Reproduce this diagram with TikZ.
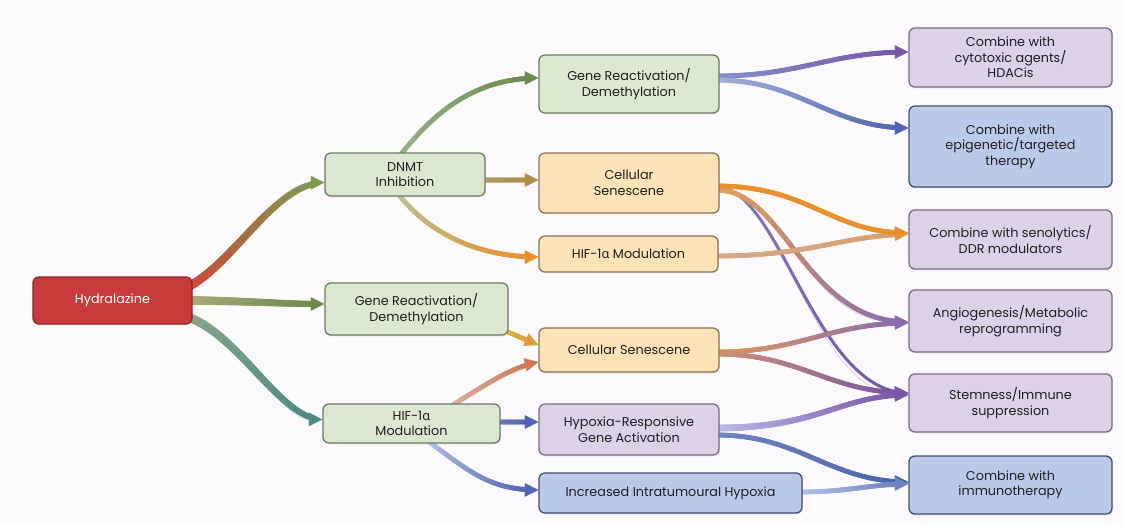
\documentclass[tikz,border=0pt]{standalone}
\usepackage{fontspec}
\setmainfont{Poppins}
\newfontfamily\grk{Noto Sans}
\usetikzlibrary{arrows.meta,decorations.markings,calc,shadows}
\pgfdeclarelayer{paper}
\pgfdeclarelayer{edges}
\pgfsetlayers{paper,edges,main}
\definecolor{bg}{HTML}{FCFAFC}
\definecolor{txt}{HTML}{1F1F1F}
\definecolor{gfill}{HTML}{DCE7CF}\definecolor{gdraw}{HTML}{6E7B62}
\definecolor{ofill}{HTML}{FDE3B8}\definecolor{odraw}{HTML}{8C7456}
\definecolor{pfill}{HTML}{DDD1E7}\definecolor{pdraw}{HTML}{7B6B85}
\definecolor{bfill}{HTML}{B9CAE8}\definecolor{bdraw}{HTML}{3D4E72}
\definecolor{rfill}{HTML}{C93B3B}\definecolor{rdraw}{HTML}{8E2323}
% flow colours
\definecolor{cRed}{HTML}{CC4A3A}
\definecolor{cOlive}{HTML}{7E9A50}
\definecolor{cKhaki}{HTML}{ABAA7A}
\definecolor{cGreen}{HTML}{6C8C4E}
\definecolor{cSage}{HTML}{8AA88A}
\definecolor{cTeal}{HTML}{4E8A84}
\definecolor{cLgreen}{HTML}{9CB48A}
\definecolor{cBrownA}{HTML}{A89C68}
\definecolor{cBrownB}{HTML}{B08E48}
\definecolor{cPale}{HTML}{B8C294}
\definecolor{cOrange}{HTML}{E8902E}
\definecolor{cYellow}{HTML}{D8BA4A}
\definecolor{cOrB}{HTML}{E09A3A}
\definecolor{cRose}{HTML}{D9B4A6}
\definecolor{cSalmon}{HTML}{D07A52}
\definecolor{cBlue}{HTML}{5266B0}
\definecolor{cBlueA}{HTML}{6C7CBA}
\definecolor{cLblue}{HTML}{B3C2E2}
\definecolor{cBlueP}{HTML}{8392CA}
\definecolor{cPurple}{HTML}{7A56A8}
\definecolor{cLbp}{HTML}{A2B0D8}
\definecolor{cOrL}{HTML}{E2A252}
\definecolor{cMauve}{HTML}{8C6CB0}
\definecolor{cPurA}{HTML}{8878B8}
\definecolor{cPurB}{HTML}{7258A2}
\definecolor{cTan}{HTML}{D8A888}
\definecolor{cTanB}{HTML}{D8A070}
\definecolor{cOrS}{HTML}{E0985A}
\definecolor{cSalB}{HTML}{D09272}
\definecolor{cLav}{HTML}{BCBCEA}
\definecolor{cBlueI}{HTML}{4A66A8}
\definecolor{cLbI}{HTML}{B2C2E8}
\definecolor{cBlueJ}{HTML}{7086C2}
\newcommand{\flowmark}[4]{%
  \pgfmathsetmacro\flfr{min(1,\pgfkeysvalueof{/pgf/decoration/mark info/distance from start}/(\pgfdecoratedpathlength-11))}%
  \pgfmathsetmacro\flpc{100*(1-\flfr)}%
  \pgfmathsetmacro\flrr{(#3+(#4-#3)*\flfr)/2}%
  \fill[#1!\flpc!#2] (0,0) circle (\flrr pt);}
\tikzset{
  box/.style={draw, rounded corners=6pt, line width=1.3pt, align=center,
    font=\fontsize{12.8}{15.5}\selectfont, text=txt, inner sep=2pt,
    drop shadow={opacity=0.12, shadow xshift=0.8pt, shadow yshift=-1.5pt}},
  gbox/.style={box, fill=gfill, draw=gdraw},
  obox/.style={box, fill=ofill, draw=odraw},
  pbox/.style={box, fill=pfill, draw=pdraw},
  bbox/.style={box, fill=bfill, draw=bdraw},
  rbox/.style={box, fill=rfill, draw=rdraw, text=white},
  flow/.style n args={4}{draw=#2, line width=0.05pt,
    -{Triangle[length=13.5pt,width=13.5pt]},
    postaction={decorate},
    decoration={markings,
      mark=between positions 0 and -11pt step 0.9pt with {\flowmark{#1}{#2}{#3}{#4}}}}
}
\begin{document}
\begin{tikzpicture}[x=1pt,y=-1pt]
\begin{pgfonlayer}{paper}
\fill[bg] (0,0) rectangle (1123,525);
\end{pgfonlayer}
\useasboundingbox (0,0) rectangle (1123,525);
% nodes
\node[rbox, minimum width=159pt, minimum height=47pt] (hyd) at (112.5,300.5) {Hydralazine};
\node[gbox, minimum width=160pt, minimum height=43pt] (dnmt) at (405,174.5) {DNMT\\Inhibition};
\node[gbox, minimum width=183pt, minimum height=52pt] (gr2) at (416.5,309) {Gene Reactivation/\\Demethylation};
\node[gbox, minimum width=177pt, minimum height=39pt] (hifl) at (411.5,423.5) {HIF-1{\grk α}\\Modulation};
\node[gbox, minimum width=180pt, minimum height=58pt] (grt) at (629,84) {Gene Reactivation/\\Demethylation};
\node[obox, minimum width=180pt, minimum height=60pt] (cst) at (629,183) {Cellular\\Senescene};
\node[obox, minimum width=179pt, minimum height=36pt] (hifm) at (628.5,254) {HIF-1{\grk α} Modulation};
\node[obox, minimum width=180pt, minimum height=44pt] (csm) at (629,350) {Cellular Senescene};
\node[pbox, minimum width=180pt, minimum height=51pt] (hyp) at (629,429.5) {Hypoxia-Responsive\\Gene Activation};
\node[bbox, minimum width=263pt, minimum height=40pt] (inc) at (670.5,493) {Increased Intratumoural Hypoxia};
\node[pbox, minimum width=203pt, minimum height=59pt] (cyto) at (1010.5,57.5) {Combine with\\cytotoxic agents/\\HDACis};
\node[bbox, minimum width=203pt, minimum height=81pt] (epi) at (1010.5,146.5) {Combine with\\epigenetic/targeted\\therapy};
\node[pbox, minimum width=203pt, minimum height=59pt] (sen) at (1010.5,239.5) {Combine with senolytics/\\DDR modulators};
\node[pbox, minimum width=203pt, minimum height=62pt] (ang) at (1010.5,321) {Angiogenesis/Metabolic\\reprogramming};
\node[pbox, minimum width=203pt, minimum height=58pt] (stem) at (1010.5,403) {Stemness/Immune\\suppression};
\node[bbox, minimum width=203pt, minimum height=58pt] (imm) at (1010.5,485) {Combine with\\immunotherapy};
\begin{pgfonlayer}{edges}
% connectors: left
\draw[flow={cRed}{cOlive}{9}{6}] ($(hyd.east)+(-4,-14)$) .. controls (235,262) and (275,183) .. ($(dnmt.west)+(0,8)$);
\draw[flow={cKhaki}{cGreen}{9}{6}] ($(hyd.east)+(-4,0)$) .. controls (250,301) and (280,304) .. ($(gr2.west)+(0,-5)$);
\draw[flow={cSage}{cTeal}{9}{6}] ($(hyd.east)+(-6,16)$) .. controls (240,335) and (280,419) .. ($(hifl.west)+(0,-4)$);
\draw[flow={cLgreen}{cGreen}{5}{5}] ($(dnmt.north)+(-5,3)$) .. controls (430,118) and (470,78) .. ($(grt.west)+(0,-6)$);
\draw[flow={cBrownA}{cBrownB}{5}{5}] ($(dnmt.east)+(-3,5.5)$) -- ($(cst.west)+(0,-3)$);
\draw[flow={cPale}{cOrange}{5}{5}] ($(dnmt.south)+(-7,-3)$) .. controls (430,235) and (480,257) .. ($(hifm.west)+(0,3)$);
\draw[flow={cYellow}{cOrB}{5}{5}] ($(gr2.east)+(-3,22)$) -- ($(csm.west)+(0,-5)$);
\draw[flow={cRose}{cSalmon}{5}{5}] ($(hifl.north)+(39,3)$) .. controls (490,382) and (510,368) .. ($(csm.west)+(0,12)$);
\draw[flow={cBlueA}{cBlue}{5}{5}] ($(hifl.east)+(-3,-1.5)$) -- ($(hyp.west)+(0,-7.5)$);
\draw[flow={cLblue}{cBlue}{5}{5}] ($(hifl.south)+(16,-3)$) .. controls (470,472) and (490,490) .. ($(inc.west)+(0,-3)$);
% connectors: right
\draw[flow={cBlueP}{cPurple}{5}{5}] ($(grt.east)+(-3,-8)$) .. controls (800,76) and (830,52) .. ($(cyto.west)+(0,-5.5)$);
\draw[flow={cLbp}{cBlue}{5}{5}] ($(grt.east)+(-3,-4)$) .. controls (800,80) and (830,128) .. ($(epi.west)+(0,-18.5)$);
\draw[flow={cPurA}{cPurB}{3.5}{3.5}] ($(cst.east)+(-3,4)$) .. controls (780,187) and (815,393) .. ($(stem.west)+(0,-10)$);
\draw[flow={cOrL}{cMauve}{5}{5}] ($(cst.east)+(-3,7)$) .. controls (785,190) and (805,322) .. ($(ang.west)+(0,1)$);
\draw[flow={cTan}{cTanB}{5}{5}] ($(hifm.east)+(-3,2)$) .. controls (810,256) and (840,236) .. ($(sen.west)+(0,-5.5)$);
\draw[flow={cOrange}{cOrange}{5}{5}] ($(cst.east)+(-3,3)$) .. controls (810,186) and (830,233) .. ($(sen.west)+(0,-6.5)$);
\draw[flow={cOrS}{cMauve}{5}{5}] ($(csm.east)+(-3,2)$) .. controls (800,352) and (830,323) .. ($(ang.west)+(0,2)$);
\draw[flow={cSalB}{cPurple}{5}{5}] ($(csm.east)+(-3,4)$) .. controls (800,354) and (830,393) .. ($(stem.west)+(0,-10)$);
\draw[flow={cLav}{cPurple}{7}{5}] ($(hyp.east)+(-3,-1.5)$) .. controls (820,428) and (840,395) .. ($(stem.west)+(0,-8)$);
\draw[flow={cBlueJ}{cBlueI}{5}{5}] ($(hyp.east)+(-3,5.5)$) .. controls (800,435) and (830,482) .. ($(imm.west)+(0,-3)$);
\draw[flow={cLbI}{cBlueJ}{5}{5}] ($(inc.east)+(-3,-1)$) .. controls (850,492) and (870,484) .. ($(imm.west)+(0,-1)$);
\end{pgfonlayer}
\end{tikzpicture}
\end{document}
